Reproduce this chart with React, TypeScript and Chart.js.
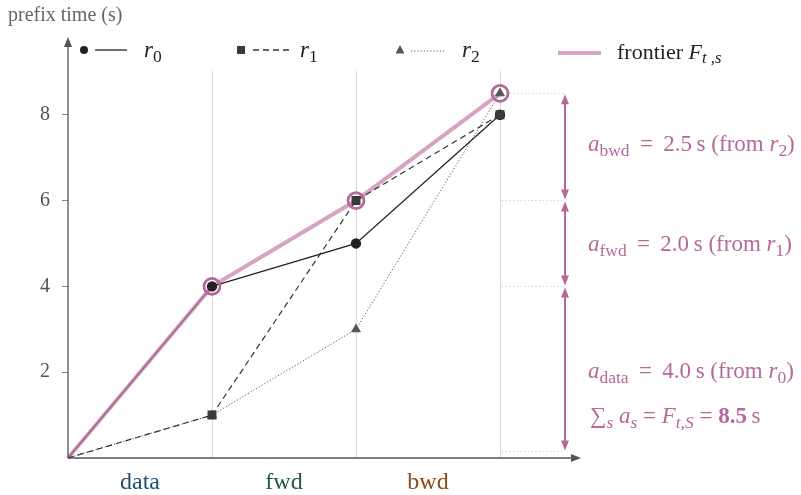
import React, { useEffect, useRef } from "react";
import { Chart, registerables } from "chart.js";

Chart.register(...registerables);

const stages = ["data", "fwd", "bwd"];
const stageColors = ["#1f4e6e", "#1d5c3f", "#8a4a17"];
const xPositions = [0, 1, 2, 3];
const r0Values = [0, 4, 5, 8];
const r1Values = [0, 1, 6, 8];
const r2Values = [0, 1, 3, 8.5];
const frontierValues = [0, 4, 6, 8.5];
const yTicks = [2, 4, 6, 8];
const boundaryValues = [0.15, 4, 6, 8.5];
const shareLabels = [
  { stage: "data", value: "4.0", run: "0" },
  { stage: "fwd", value: "2.0", run: "1" },
  { stage: "bwd", value: "2.5", run: "2" },
];
const totalValue = "8.5";

const SERIF = '"Liberation Serif", "DejaVu Serif", serif';
const PINK = "#b5699b";
const FRONTIER = "#d6a3c2";

type Run = { t: string; it?: boolean; sub?: boolean; bold?: boolean };

function drawRich(ctx: CanvasRenderingContext2D, runs: Run[], x: number, y: number, size: number, color: string) {
  ctx.save();
  ctx.fillStyle = color;
  ctx.textBaseline = "alphabetic";
  ctx.textAlign = "left";
  let cx = x;
  for (const r of runs) {
    const fs = r.sub ? size * 0.76 : size;
    ctx.font = `${r.it ? "italic " : ""}${r.bold ? "bold " : ""}${fs}px ${SERIF}`;
    const dy = r.sub ? size * 0.2 : 0;
    ctx.fillText(r.t, cx, y + dy);
    cx += ctx.measureText(r.t).width;
  }
  ctx.restore();
}

const pts = (vals: number[]) => vals.map((v, i) => ({ x: xPositions[i], y: v }));

const overlay = {
  id: "overlay",
  afterDraw(chart: any) {
    const ctx: CanvasRenderingContext2D = chart.ctx;
    const xs = chart.scales.x;
    const ys = chart.scales.y;
    const x0 = xs.getPixelForValue(0);
    const y0 = ys.getPixelForValue(0);
    ctx.save();
    // axes
    ctx.strokeStyle = "#555";
    ctx.fillStyle = "#555";
    ctx.lineWidth = 1.3;
    ctx.beginPath();
    ctx.moveTo(x0, y0);
    ctx.lineTo(x0, 44);
    ctx.moveTo(x0, y0);
    ctx.lineTo(574, y0);
    ctx.stroke();
    ctx.beginPath();
    ctx.moveTo(x0, 37);
    ctx.lineTo(x0 - 4, 47);
    ctx.lineTo(x0 + 4, 47);
    ctx.closePath();
    ctx.fill();
    ctx.beginPath();
    ctx.moveTo(581, y0);
    ctx.lineTo(571, y0 - 4);
    ctx.lineTo(571, y0 + 4);
    ctx.closePath();
    ctx.fill();

    // y title
    ctx.font = `20px ${SERIF}`;
    ctx.fillStyle = "#666";
    ctx.textBaseline = "alphabetic";
    ctx.fillText("prefix time (s)", 8, 21);

    // stage labels
    ctx.font = `24px ${SERIF}`;
    ctx.textAlign = "center";
    stages.forEach((s, i) => {
      ctx.fillStyle = stageColors[i];
      ctx.fillText(s, xs.getPixelForValue(i + 0.5), 489);
    });
    ctx.textAlign = "left";

    // legend
    const ly = 50;
    ctx.fillStyle = "#222";
    ctx.beginPath();
    ctx.arc(84, ly, 4, 0, Math.PI * 2);
    ctx.fill();
    ctx.strokeStyle = "#222";
    ctx.lineWidth = 1.3;
    ctx.beginPath();
    ctx.moveTo(95, ly);
    ctx.lineTo(127, ly);
    ctx.stroke();
    drawRich(ctx, [{ t: "r", it: true }, { t: "0", sub: true }], 144, ly + 7, 23, "#222");

    ctx.fillStyle = "#3a3a3a";
    ctx.fillRect(237, ly - 4, 8, 8);
    ctx.strokeStyle = "#333";
    ctx.setLineDash([6, 4]);
    ctx.beginPath();
    ctx.moveTo(253, ly);
    ctx.lineTo(289, ly);
    ctx.stroke();
    ctx.setLineDash([]);
    drawRich(ctx, [{ t: "r", it: true }, { t: "1", sub: true }], 300, ly + 7, 23, "#222");

    ctx.fillStyle = "#555";
    ctx.beginPath();
    ctx.moveTo(400, ly - 5);
    ctx.lineTo(404.5, ly + 3.5);
    ctx.lineTo(395.5, ly + 3.5);
    ctx.closePath();
    ctx.fill();
    ctx.strokeStyle = "#555";
    ctx.lineWidth = 1;
    ctx.setLineDash([1.2, 2]);
    ctx.beginPath();
    ctx.moveTo(411, ly + 1);
    ctx.lineTo(446, ly + 1);
    ctx.stroke();
    ctx.setLineDash([]);
    drawRich(ctx, [{ t: "r", it: true }, { t: "2", sub: true }], 462, ly + 7, 23, "#222");

    ctx.strokeStyle = FRONTIER;
    ctx.lineWidth = 4;
    ctx.beginPath();
    ctx.moveTo(558, ly + 3);
    ctx.lineTo(601, ly + 3);
    ctx.stroke();
    drawRich(ctx, [{ t: "frontier " }, { t: "F", it: true }, { t: "t ,s", it: true, sub: true }], 617, ly + 9, 22, "#222");

    // annotation guides
    const ax = 565;
    const xr = xs.getPixelForValue(3);
    ctx.strokeStyle = "#c8c8c8";
    ctx.lineWidth = 1;
    ctx.setLineDash([1.2, 2.5]);
    boundaryValues.forEach((v, i) => {
      const py = ys.getPixelForValue(v);
      ctx.beginPath();
      ctx.moveTo(i === boundaryValues.length - 1 ? xr + 10 : xr + 2, py);
      ctx.lineTo(ax, py);
      ctx.stroke();
    });
    ctx.setLineDash([]);

    ctx.strokeStyle = PINK;
    ctx.fillStyle = PINK;
    ctx.lineWidth = 2;
    for (let i = 0; i < boundaryValues.length - 1; i++) {
      const yb = ys.getPixelForValue(boundaryValues[i]) - 1;
      const yt = ys.getPixelForValue(boundaryValues[i + 1]) + 1;
      ctx.beginPath();
      ctx.moveTo(ax, yb - 6);
      ctx.lineTo(ax, yt + 6);
      ctx.stroke();
      ctx.beginPath();
      ctx.moveTo(ax, yb);
      ctx.lineTo(ax - 4, yb - 10);
      ctx.lineTo(ax + 4, yb - 10);
      ctx.closePath();
      ctx.fill();
      ctx.beginPath();
      ctx.moveTo(ax, yt);
      ctx.lineTo(ax - 4, yt + 10);
      ctx.lineTo(ax + 4, yt + 10);
      ctx.closePath();
      ctx.fill();
    }

    const baselines = [378, 251, 151];
    shareLabels.forEach((s, i) => {
      drawRich(
        ctx,
        [
          { t: "a", it: true },
          { t: s.stage, sub: true },
          { t: ` \u2009=\u2009 ${s.value}\u2009s (from ` },
          { t: "r", it: true },
          { t: s.run, sub: true },
          { t: ")" },
        ],
        588,
        baselines[i],
        23,
        PINK
      );
    });
    drawRich(
      ctx,
      [
        { t: "\u2211" },
        { t: "s", it: true, sub: true },
        { t: " " },
        { t: "a", it: true },
        { t: "s", it: true, sub: true },
        { t: " = " },
        { t: "F", it: true },
        { t: "t,S", it: true, sub: true },
        { t: " = " },
        { t: totalValue, bold: true },
        { t: "\u2009s" },
      ],
      590,
      423,
      23,
      PINK
    );
    ctx.restore();
  },
};

export default function App() {
  const ref = useRef<HTMLCanvasElement>(null);
  useEffect(() => {
    if (!ref.current) return;
    const noFirst = (r: number) => (c: any) => (c.dataIndex === 0 ? 0 : r);
    const chart = new Chart(ref.current, {
      type: "line",
      data: {
        datasets: [
          {
            label: "frontier rings",
            data: pts(frontierValues).slice(1),
            showLine: false,
            pointStyle: "circle",
            pointRadius: 8,
            pointBorderWidth: 2.8,
            pointBorderColor: PINK,
            pointBackgroundColor: "rgba(0,0,0,0)",
            clip: false,
            order: 0,
          },
          {
            label: "r0",
            data: pts(r0Values),
            borderColor: "#222",
            borderWidth: 1.3,
            pointStyle: "circle",
            pointRadius: noFirst(4.5),
            pointBackgroundColor: "#222",
            pointBorderColor: "#222",
            segment: { borderColor: (c: any) => (c.p0DataIndex === 0 ? "rgba(110,40,85,0.55)" : undefined) },
            clip: false,
            order: 3,
          },
          {
            label: "r1",
            data: pts(r1Values),
            borderColor: "#333",
            borderWidth: 1.2,
            borderDash: [6, 4],
            pointStyle: "rect",
            pointRadius: noFirst(5.5),
            pointBackgroundColor: "#3a3a3a",
            pointBorderColor: "#3a3a3a",
            clip: false,
            order: 1,
          },
          {
            label: "r2",
            data: pts(r2Values),
            borderColor: "#555",
            borderWidth: 1,
            borderDash: [1.2, 2],
            pointStyle: "triangle",
            pointRadius: noFirst(5),
            pointBackgroundColor: "#555",
            pointBorderColor: "#555",
            clip: false,
            order: 2,
          },
          {
            label: "frontier",
            data: pts(frontierValues),
            borderColor: FRONTIER,
            borderWidth: 4,
            pointRadius: 0,
            clip: false,
            order: 5,
          },
        ] as any,
      },
      options: {
        responsive: false,
        animation: false,
        layout: { padding: { top: 71, right: 301, left: 0, bottom: 0 } },
        plugins: { legend: { display: false }, tooltip: { enabled: false } },
        elements: { line: { tension: 0 } },
        scales: {
          x: {
            type: "linear",
            min: 0,
            max: 3,
            afterBuildTicks: (s: any) => {
              s.ticks = xPositions.map((v) => ({ value: v }));
            },
            afterFit: (s: any) => {
              s.height = 37;
            },
            grid: {
              color: (c: any) => (c.tick && c.tick.value === 0 ? "rgba(0,0,0,0)" : "#d9d9d9"),
              lineWidth: 1,
              drawTicks: false,
            },
            border: { display: false },
            ticks: { display: false },
          },
          y: {
            type: "linear",
            min: 0,
            max: 9.02,
            afterBuildTicks: (s: any) => {
              s.ticks = yTicks.map((v) => ({ value: v }));
            },
            afterFit: (s: any) => {
              s.width = 68;
            },
            grid: { drawOnChartArea: false, drawTicks: true, tickLength: 6, color: "#888" },
            border: { display: false },
            ticks: { color: "#555", font: { family: SERIF, size: 20 }, padding: 12 },
          },
        },
      } as any,
      plugins: [overlay],
    });
    return () => chart.destroy();
  }, []);
  return (
    <div style={{ position: "fixed", left: 0, top: 0, width: 801, height: 495, background: "#fff" }}>
      <canvas ref={ref} width={801} height={495} style={{ width: 801, height: 495 }} />
    </div>
  );
}
